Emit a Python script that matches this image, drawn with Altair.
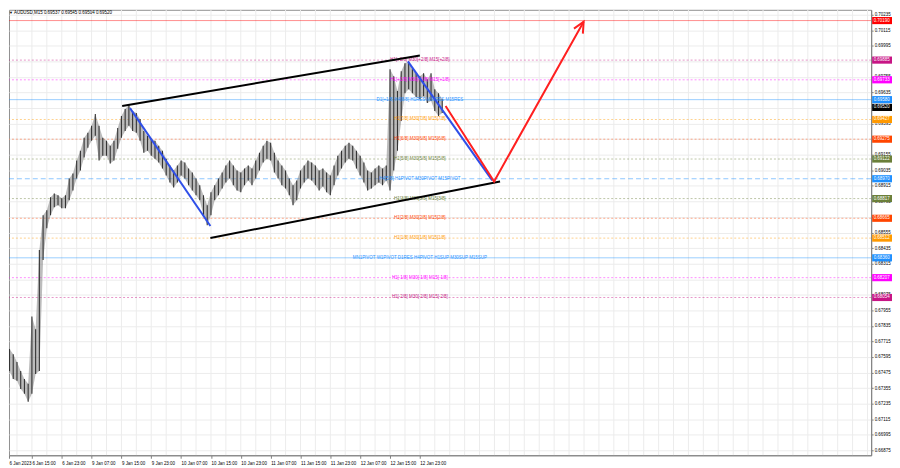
import json
import altair as alt
import pandas as pd

FONT = "Liberation Sans"
FS = 4.5
W, H = 869, 449

# ---- hourly price ranges (AUDUSD, from 6 Jan 07:00, weekend skipped) ----
high = [0.67694, 0.67694, 0.67656, 0.67617, 0.67556, 0.67487, 0.67426, 0.67388, 0.67908, 0.67809,
        0.68421, 0.68689, 0.68727, 0.68827, 0.68857, 0.68842, 0.68819, 0.68842, 0.68972, 0.69010,
        0.69110, 0.69186, 0.69286, 0.69324, 0.69378, 0.69470, 0.69378, 0.69286, 0.69263, 0.69225,
        0.69263, 0.69362, 0.69454, 0.69508, 0.69538, 0.69493, 0.69477, 0.69431, 0.69339, 0.69301,
        0.69278, 0.69263, 0.69225, 0.69186, 0.69125, 0.69072, 0.69033, 0.69072, 0.69110, 0.69095,
        0.69049, 0.69018, 0.68972, 0.68919, 0.68842, 0.68765, 0.68865, 0.68919, 0.68972, 0.69018,
        0.69072, 0.69110, 0.69072, 0.69033, 0.69018, 0.69049, 0.69072, 0.69049, 0.69110, 0.69171,
        0.69225, 0.69263, 0.69248, 0.69171, 0.69110, 0.69072, 0.69033, 0.68972, 0.68919, 0.68957,
        0.69033, 0.69072, 0.69110, 0.69095, 0.69072, 0.69033, 0.69049, 0.69018, 0.68995, 0.69072,
        0.69148, 0.69186, 0.69225, 0.69248, 0.69225, 0.69186, 0.69148, 0.69095, 0.69033, 0.69018,
        0.69049, 0.69072, 0.69049, 0.69072, 0.69814, 0.69760, 0.69646, 0.69799, 0.69860, 0.69875,
        0.69814, 0.69783, 0.69760, 0.69783, 0.69737, 0.69783, 0.69661, 0.69630, 0.69584]
low = [0.67579, 0.67564, 0.67487, 0.67426, 0.67411, 0.67349, 0.67311, 0.67250, 0.67311, 0.67464,
       0.67487, 0.68344, 0.68589, 0.68689, 0.68750, 0.68765, 0.68742, 0.68742, 0.68804, 0.68880,
       0.68972, 0.69033, 0.69133, 0.69209, 0.69263, 0.69301, 0.69110, 0.69148, 0.69148, 0.69087,
       0.69110, 0.69202, 0.69286, 0.69339, 0.69378, 0.69339, 0.69324, 0.69263, 0.69171, 0.69186,
       0.69148, 0.69125, 0.69095, 0.69049, 0.68995, 0.68941, 0.68903, 0.68941, 0.68995, 0.68972,
       0.68919, 0.68880, 0.68842, 0.68804, 0.68689, 0.68612, 0.68689, 0.68804, 0.68842, 0.68895,
       0.68941, 0.68972, 0.68919, 0.68880, 0.68865, 0.68919, 0.68957, 0.68919, 0.68972, 0.69033,
       0.69095, 0.69125, 0.69110, 0.69018, 0.68972, 0.68919, 0.68895, 0.68842, 0.68765, 0.68804,
       0.68895, 0.68941, 0.68972, 0.68957, 0.68919, 0.68880, 0.68911, 0.68865, 0.68842, 0.68919,
       0.68995, 0.69049, 0.69095, 0.69125, 0.69110, 0.69049, 0.68995, 0.68941, 0.68880, 0.68895,
       0.68919, 0.68941, 0.68919, 0.68957, 0.68880, 0.69033, 0.69186, 0.69416, 0.69630, 0.69661,
       0.69630, 0.69600, 0.69584, 0.69607, 0.69554, 0.69569, 0.69493, 0.69454, 0.69477]
hours = list(range(len(high)))

# ---- time axis ----
time_labels = ["6 Jan 2023", "6 Jan 15:00", "6 Jan 23:00", "9 Jan 07:00", "9 Jan 15:00",
               "9 Jan 23:00", "10 Jan 07:00", "10 Jan 15:00", "10 Jan 23:00", "11 Jan 07:00",
               "11 Jan 15:00", "11 Jan 23:00", "12 Jan 07:00", "12 Jan 15:00", "12 Jan 23:00"]
label_step = 8          # hours between time labels
grid_step = 4           # hours between vertical grid lines
x_domain = [1.86, 232.98]
y_domain = [0.66837, 0.70273]
price_ticks = [round(0.66875 + 0.0012 * k, 5) for k in range(29)]
# price labels hidden behind the coloured level boxes
hidden_price_labels = ["0.69875", "0.69515", "0.69275", "0.68675", "0.68195"]

# ---- horizontal levels ----
level_prices = [0.70190, 0.69885, 0.69733, 0.69580, 0.69427, 0.69275, 0.69122,
                0.68970, 0.68817, 0.68665, 0.68512, 0.68360, 0.68207, 0.68054]
level_colors = ["#ff0000", "#c71585", "#ff00ff", "#1e90ff", "#ff9900", "#ff4500", "#6b7f3a",
                "#1e90ff", "#6b7f3a", "#ff4500", "#ff9900", "#1e90ff", "#ff00ff", "#c71585"]
level_styles = ["solid", "dot", "dot", "solid", "dot", "dot", "dot",
                "dash", "dot", "dot", "dot", "solid", "dot", "dot"]
level_texts = ["", "H1[+2/8] M30[+2/8] M15[+2/8]", "H1[+1/8] M30[+1/8] M15[+1/8]",
               "D1[+1/8] H4[8/8] H1RES M30RES M15RES", "H1[7/8] M30[7/8] M15[7/8]",
               "H1[6/8] M30[6/8] M15[6/8]", "H1[5/8] M30[5/8] M15[5/8]",
               "H4[5/8] H1PIVOT M30PIVOT M15PIVOT", "H1[3/8] M30[3/8] M15[3/8]",
               "H1[2/8] M30[2/8] M15[2/8]", "H1[1/8] M30[1/8] M15[1/8]",
               "MN1PIVOT W1PIVOT D1RES H4PIVOT H1SUP M30SUP M15SUP",
               "H1[-1/8] M30[-1/8] M15[-1/8]", "H1[-2/8] M30[-2/8] M15[-2/8]"]
level_text_hour = 112
current_price = 0.69520
header = "AUDUSD,M15  0.69537 0.69545 0.69504 0.69520"

# ---- drawn trend lines (hour, price) ----
seg_id = ["b1", "b1", "k1", "k1", "k2", "k2", "b2", "b2", "r", "r", "r"]
seg_hour = [34.3, 55.85, 55.85, 133.5, 32.2, 112.0, 108.8, 131.4, 118.9, 131.9, 155.9]
seg_price = [0.69515, 0.68605, 0.68513, 0.68949, 0.69531, 0.69921, 0.69875, 0.68957,
             0.69531, 0.68949, 0.70181]
seg_color = ["#2f4fe8", "#2f4fe8", "#000000", "#000000", "#000000", "#000000",
             "#2f4fe8", "#2f4fe8", "#ff2020", "#ff2020", "#ff2020"]
arrow_hour, arrow_price = 155.9, 0.70181

# ---------------------------------------------------------------
xs = alt.Scale(domain=x_domain, nice=False, zero=False)
ys = alt.Scale(domain=y_domain, nice=False, zero=False)

price_df = pd.DataFrame({"h": hours, "high": high, "low": low})
lvl_df = pd.DataFrame({"price": level_prices, "color": level_colors, "style": level_styles,
                       "text": level_texts, "h": [level_text_hour] * len(level_prices)})
box_df = pd.DataFrame({"price": level_prices + [current_price],
                       "color": level_colors + ["#000000"],
                       "label": [f"{p:.5f}" for p in level_prices + [current_price]]})
seg_df = pd.DataFrame({"id": seg_id, "h": seg_hour, "price": seg_price, "color": seg_color,
                       "i": list(range(len(seg_id)))})
grid_df = pd.DataFrame({"h": list(range(0, 233, grid_step))})

x_axis = alt.Axis(values=[x_domain[0]] + list(range(label_step, 113, label_step)),
                  labelExpr=f"{json.dumps(time_labels)}[round(datum.value/{label_step})]",
                  labelAlign="left", labelFontSize=FS, labelFont=FONT, labelColor="#000",
                  tickSize=3, tickColor="#808080", domainColor="#808080", grid=False,
                  title=None, labelPadding=2, labelOverlap=False, labelFlush=False)
y_axis = alt.Axis(orient="right", values=price_ticks,
                  labelExpr=(f"indexof({json.dumps(hidden_price_labels)}, format(datum.value, '.5f'))"
                             " >= 0 ? '' : format(datum.value, '.5f')"),
                  labelFontSize=FS, labelFont=FONT, labelColor="#000", tickSize=2,
                  tickColor="#808080", domainColor="#808080", grid=True, gridColor="#ececec",
                  title=None, labelPadding=1, labelOverlap=False, labelFlush=False)

X = lambda f: alt.X(f, scale=xs, axis=x_axis)
Y = lambda f: alt.Y(f, scale=ys, axis=y_axis)

vgrid = alt.Chart(grid_df).mark_rule(color="#ececec", strokeWidth=1, clip=True).encode(
    x=X("h:Q"))

base_lvl = alt.Chart(lvl_df)
lvl_solid = base_lvl.transform_filter("datum.style == 'solid'").mark_rule(
    strokeWidth=1, opacity=0.45).encode(
    y=Y("price:Q"), color=alt.Color("color:N", scale=None))
lvl_dot = base_lvl.transform_filter("datum.style == 'dot'").mark_rule(
    strokeWidth=1, opacity=0.45, strokeDash=[2, 2]).encode(
    y=Y("price:Q"), color=alt.Color("color:N", scale=None))
lvl_dash = base_lvl.transform_filter("datum.style == 'dash'").mark_rule(
    strokeWidth=1, opacity=0.5, strokeDash=[5, 3]).encode(
    y=Y("price:Q"), color=alt.Color("color:N", scale=None))
lvl_text = base_lvl.transform_filter("datum.text != ''").mark_text(
    fontSize=FS, font=FONT, align="center", baseline="middle", opacity=0.95).encode(
    x=X("h:Q"), y=Y("price:Q"),
    text="text:N", color=alt.Color("color:N", scale=None))

band = alt.Chart(price_df).mark_area(color="#7a7a7a", opacity=0.5, clip=True).encode(
    x=X("h:Q"), y=Y("low:Q"), y2="high:Q")
bars = alt.Chart(price_df).mark_rule(color="#333333", strokeWidth=1.1, clip=True).encode(
    x=X("h:Q"), y=Y("low:Q"), y2="high:Q")

segs = alt.Chart(seg_df).mark_line(strokeWidth=2, clip=True).encode(
    x=X("h:Q"), y=Y("price:Q"),
    color=alt.Color("color:N", scale=None), detail="id:N", order="i:Q")
arrow = alt.Chart(pd.DataFrame({"h": [arrow_hour], "price": [arrow_price]})).mark_point(
    shape="M-0.45,0.95L0,0L0.45,0.95", filled=False, size=520, strokeWidth=2,
    color="#ff2020", opacity=1, angle=29).encode(
    x=X("h:Q"), y=Y("price:Q"))

boxes = alt.Chart(box_df).mark_point(
    shape="M-1,-0.36L1,-0.36L1,0.36L-1,0.36Z", filled=True, size=400, opacity=1,
    strokeWidth=0, clip=False).encode(
    x=alt.value(W + 11), y=Y("price:Q"), color=alt.Color("color:N", scale=None))
box_text = alt.Chart(box_df).mark_text(
    fontSize=FS, font=FONT, align="left", baseline="middle", color="white").encode(
    x=alt.value(W + 2.5), y=Y("price:Q"), text="label:N")

head = alt.Chart(pd.DataFrame({"t": [header]})).mark_text(
    fontSize=FS, font=FONT, align="left", baseline="middle", color="#000").encode(
    x=alt.value(5), y=alt.value(3), text="t:N")
tri = alt.Chart(pd.DataFrame({"t": ["\u25bc"]})).mark_text(
    fontSize=4, align="left", baseline="middle", color="#000").encode(
    x=alt.value(0), y=alt.value(3), text="t:N")

chart = alt.layer(vgrid, lvl_solid, lvl_dot, lvl_dash, band, bars, lvl_text, segs, arrow,
                  boxes, box_text, head, tri).properties(
    width=W, height=H, padding=0, background="white"
).configure_view(stroke="#909090", strokeWidth=1).configure_axis(labelOverlap=False)

chart.save("out.html", embed_options={"renderer": "svg", "actions": False})
